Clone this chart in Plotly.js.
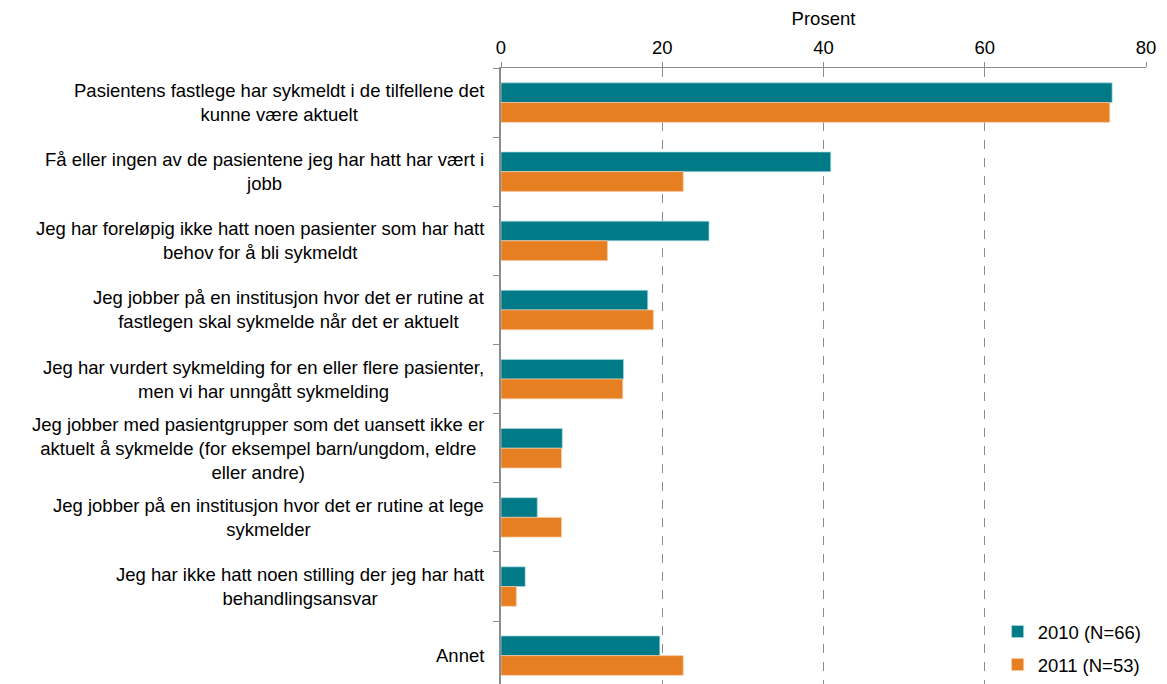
<!DOCTYPE html>
<html>
<head>
<meta charset="utf-8">
<script src="https://cdn.plot.ly/plotly-3.0.1.min.js"></script>
<style>html,body{margin:0;padding:0;background:#fff;}#chart{width:1167px;height:684px;}</style>
</head>
<body>
<div id="chart"></div>
<script>
const categories = [
  "Pasientens fastlege har sykmeldt i de tilfellene det<br>kunne være aktuelt",
  "Få eller ingen av de pasientene jeg har hatt har vært i<br>jobb",
  "Jeg har foreløpig ikke hatt noen pasienter som har hatt<br>behov for å bli sykmeldt",
  "Jeg jobber på en institusjon hvor det er rutine at<br>fastlegen skal sykmelde når det er aktuelt",
  "Jeg har vurdert sykmelding for en eller flere pasienter,<br>men vi har unngått sykmelding",
  "Jeg jobber med pasientgrupper som det uansett ikke er<br>aktuelt å sykmelde (for eksempel barn/ungdom, eldre<br>eller andre)",
  "Jeg jobber på en institusjon hvor det er rutine at lege<br>sykmelder",
  "Jeg har ikke hatt noen stilling der jeg har hatt<br>behandlingsansvar",
  "Annet"
];
const seriesNames = ["2010 (N=66)", "2011 (N=53)"];
const values2010 = [75.8, 40.9, 25.8, 18.2, 15.2, 7.6, 4.5, 3.0, 19.7];
const values2011 = [75.5, 22.6, 13.2, 18.9, 15.1, 7.5, 7.5, 1.9, 22.6];
const xTicks = [0, 20, 40, 60, 80];

const FONT = "'Liberation Sans', Arial, sans-serif";
const FS = 18.5;
const ids = categories.map((c, i) => "c" + i);

const traces = [
  {type: "bar", orientation: "h", name: seriesNames[0], x: values2010, y: ids,
   marker: {color: "#007A87", line: {color: "rgba(170,220,225,0.9)", width: 0.8}},
   legendgroup: "a", hoverinfo: "x"},
  {type: "bar", orientation: "h", name: seriesNames[1], x: values2011, y: ids,
   marker: {color: "#E67E22", line: {color: "rgba(250,200,160,0.9)", width: 0.8}},
   legendgroup: "b", hoverinfo: "x"}
];

const annotations = categories.map((c, i) => ({
  xref: "paper", yref: "y", x: 0, y: ids[i], xanchor: "right", yanchor: "middle",
  xshift: -15, text: c, showarrow: false, align: "center",
  font: {family: FONT, size: FS, color: "#000"}
}));

const layout = {
  width: 1167, height: 684,
  margin: {l: 501, r: 21, t: 68, b: 0, pad: 0},
  paper_bgcolor: "#fff", plot_bgcolor: "#fff",
  font: {family: FONT, size: FS, color: "#000"},
  barmode: "group", bargap: 0.43, bargroupgap: 0,
  xaxis: {
    side: "top", range: [0, 80], tickvals: xTicks, ticktext: xTicks.map(String),
    showgrid: true, gridcolor: "#8c8c8c", griddash: "dash", gridwidth: 1,
    showline: true, linecolor: "#8c8c8c", linewidth: 1.5,
    ticks: "outside", ticklen: 5, tickcolor: "#8c8c8c", zeroline: false,
    tickfont: {family: FONT, size: FS, color: "#000"},
    title: {text: "Prosent", font: {family: FONT, size: FS, color: "#000"}, standoff: 6},
    fixedrange: true
  },
  yaxis: {
    type: "category", autorange: false, range: [8.41, -0.5], showticklabels: false,
    showline: true, linecolor: "#8c8c8c", linewidth: 2,
    ticks: "outside", ticklen: 6, tickcolor: "#8c8c8c", tickson: "boundaries",
    showgrid: false, zeroline: false, fixedrange: true
  },
  showlegend: true,
  legend: {x: 0.77, y: 0, xanchor: "left", yanchor: "bottom",
    bgcolor: "rgba(255,255,255,0)", tracegroupgap: 6,
    font: {family: FONT, size: FS, color: "#000"}, traceorder: "grouped"},
  annotations: annotations
};

Plotly.newPlot("chart", traces, layout, {displayModeBar: false, staticPlot: true});
</script>
</body>
</html>
